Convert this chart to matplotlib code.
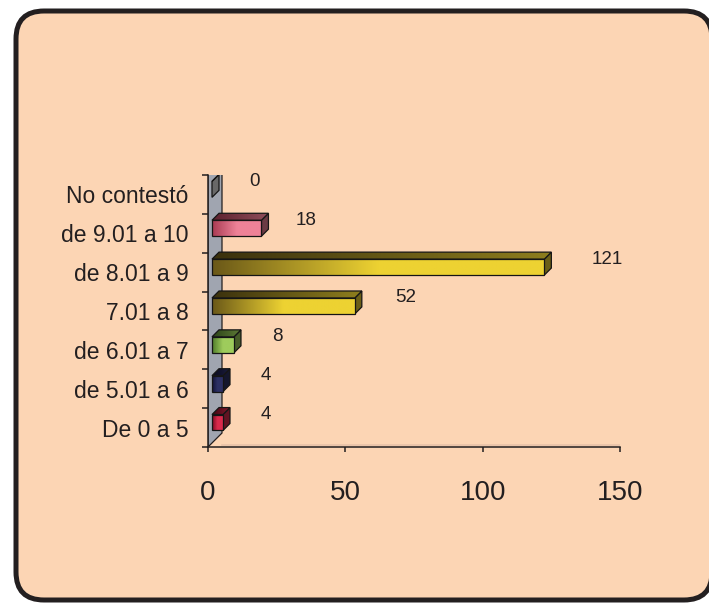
import numpy as np
import matplotlib
matplotlib.use("Agg")
import matplotlib.pyplot as plt
from matplotlib.patches import Polygon, FancyBboxPatch
from matplotlib.colors import LinearSegmentedColormap, to_rgb
import matplotlib.transforms as mtransforms

categories = ["De 0 a 5", "de 5.01 a 6", "de 6.01 a 7", "7.01 a 8",
              "de 8.01 a 9", "de 9.01 a 10", "No contestó"]
values = [4, 4, 8, 52, 121, 18, 0]
x_ticks = [0, 50, 100, 150]
bar_light = ["#DA2A4C", "#2C3064", "#9ECC5C", "#EDD232", "#EDD232", "#EE8298", "#E6E6E6"]
bar_dark = ["#7A0A22", "#121236", "#4E7A2A", "#6A5818", "#6A5818", "#A83A52", "#9A9A9A"]

plt.rcParams["font.family"] = ["Liberation Sans", "DejaVu Sans"]
ink = "#231F20"
bg = "#FCD5B4"

W, H = 709, 603
fig = plt.figure(figsize=(W / 100, H / 100), dpi=100)
fig.patch.set_facecolor("white")

# rounded frame, in pixels
frame = FancyBboxPatch((16, 3), 696, 589, boxstyle="round,pad=0,rounding_size=28",
                       transform=mtransforms.IdentityTransform(),
                       facecolor=bg, edgecolor=ink, linewidth=3.6, zorder=0)
fig.add_artist(frame)

ax = fig.add_axes([208 / W, (H - 447) / H, 412 / W, 272 / H])
ax.patch.set_visible(False)
ax.set_xlim(0, 150)
ax.set_ylim(-0.5, 6.5)

ux = 150 / 412      # data units per pixel (x)
uy = 7 / 272        # data units per pixel (y)


def shade(c, f):
    r, g, b = to_rgb(c)
    return (r * f, g * f, b * f)


# back wall
wd_x, wd_y = 14 * ux, 14 * uy
wall = Polygon([(0, -0.5), (0, 6.5), (wd_x, 6.5 + wd_y), (wd_x, -0.5 + wd_y)],
               closed=True, facecolor="#A0A5B0", edgecolor=ink, lw=0.9, zorder=1)
ax.add_patch(wall)
ax.plot([wd_x, 150 + wd_x], [-0.5 + 2 * uy, -0.5 + 2 * uy], color="#E8C2A8", lw=1.2, zorder=1)

x0 = 4 * ux
dx, dy = 7 * ux, 7 * uy
grad = np.linspace(0, 1, 256).reshape(1, -1)

for i, (v, lc, dc) in enumerate(zip(values, bar_light, bar_dark)):
    yb = i - 0.075
    yt = i + 0.335
    xe = x0 + v
    # right face
    right = Polygon([(xe, yb), (xe + dx, yb + dy), (xe + dx, yt + dy), (xe, yt)],
                    closed=True, facecolor=shade(lc, 0.45), edgecolor="#151515", lw=0.9, zorder=4)
    ax.add_patch(right)
    # top face
    top = Polygon([(x0, yt), (xe, yt), (xe + dx, yt + dy), (x0 + dx, yt + dy)],
                  closed=True, facecolor="none", edgecolor="#151515", lw=0.9, zorder=5)
    ax.add_patch(top)
    tcm = LinearSegmentedColormap.from_list("t", [shade(dc, 0.55), shade(lc, 0.6)])
    im = ax.imshow(grad, cmap=tcm, extent=(x0, xe + dx, yt, yt + dy), aspect="auto", zorder=4)
    im.set_clip_path(top)
    # front face
    if v > 0:
        front = Polygon([(x0, yb), (xe, yb), (xe, yt), (x0, yt)],
                        closed=True, facecolor="none", edgecolor="#151515", lw=0.9, zorder=5)
        ax.add_patch(front)
        fcm = LinearSegmentedColormap.from_list("f", [dc, lc, lc])
        im = ax.imshow(grad, cmap=fcm, extent=(x0, xe, yb, yt), aspect="auto", zorder=4)
        im.set_clip_path(front)
    ax.annotate(str(v), xy=(xe, (yb + yt) / 2),
                xytext=((42 + 0.17 * v) * 0.72, 5.8), textcoords="offset points",
                ha="center", va="center", fontsize=13.5, color=ink, zorder=6)

ax.set_xlim(0, 150)
ax.set_ylim(-0.5, 6.5)

for s in ["top", "right"]:
    ax.spines[s].set_visible(False)
for s in ["left", "bottom"]:
    ax.spines[s].set_color(ink)
    ax.spines[s].set_linewidth(1.1)

ax.set_xticks(x_ticks)
ax.set_xticklabels([str(t) for t in x_ticks])
ax.tick_params(axis="x", length=3.6, width=1.1, color=ink, labelsize=20, labelcolor=ink, pad=20)

ax.set_yticks(np.arange(-0.5, 7, 1))
ax.set_yticklabels([])
ax.set_yticks(range(len(categories)), labels=categories, minor=True)
ax.tick_params(axis="y", which="major", length=4.3, width=1.1, color=ink)
ax.tick_params(axis="y", which="minor", length=0, labelsize=16.5, labelcolor=ink, pad=14)

fig.savefig("out.png", dpi=100)
